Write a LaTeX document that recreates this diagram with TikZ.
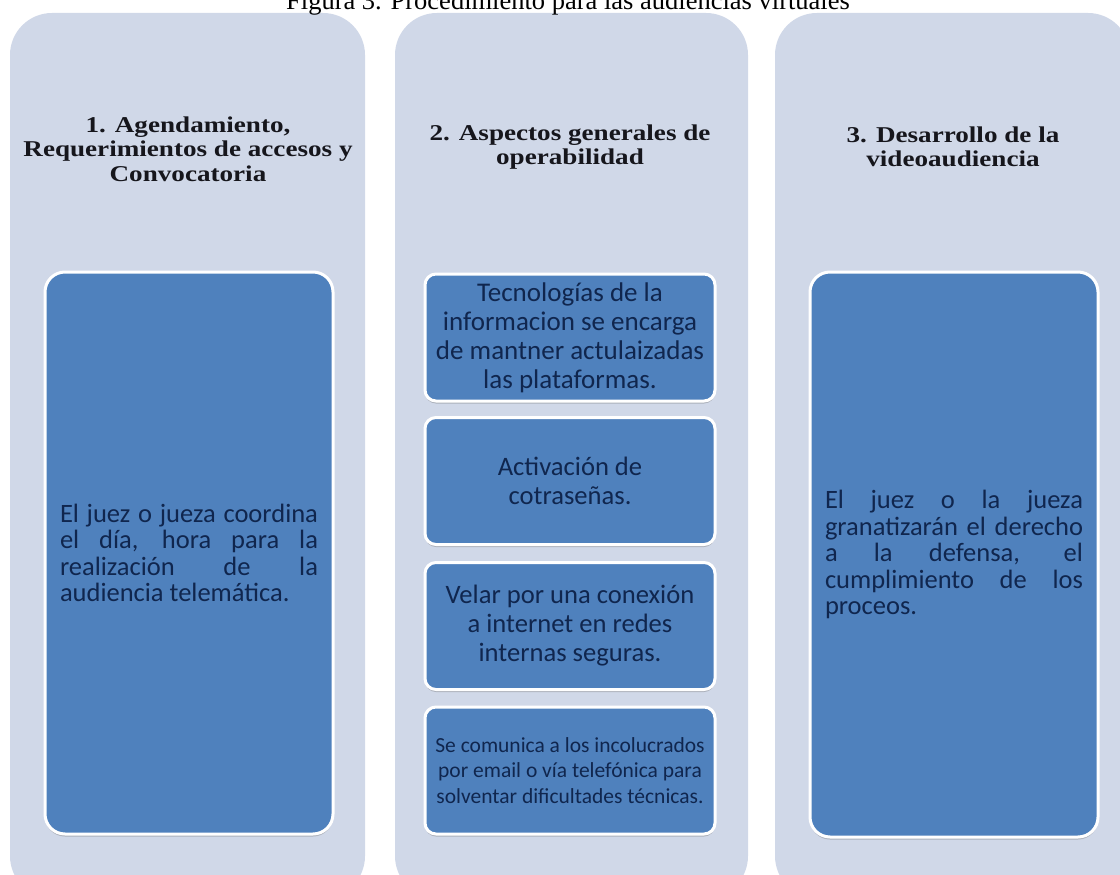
\documentclass[tikz,border=0pt]{standalone}
\usepackage{fontspec}
\setmainfont{Liberation Serif}
\newfontfamily\bodyfont{Carlito}
\newfontfamily\headfont[FakeStretch=1.2]{Liberation Serif}
\usetikzlibrary{shadows}
\definecolor{panelcol}{RGB}{208,216,232}
\definecolor{boxblue}{RGB}{79,129,189}
\definecolor{navytext}{RGB}{16,38,78}
\definecolor{headtext}{RGB}{22,22,28}
\begin{document}
\begin{tikzpicture}[x=1pt,y=-1pt,
  panel/.style={fill=panelcol, rounded corners=42pt},
  boxbase/.style={rectangle, draw=white, line width=3pt, fill=boxblue,
    text=navytext, inner sep=0pt,
    execute at begin node={\hyphenpenalty=10000\exhyphenpenalty=10000\tolerance=10000},
    drop shadow={shadow xshift=0pt, shadow yshift=-2.5pt, opacity=0.35, fill=black!60}},
  bigbox/.style={boxbase, rounded corners=20pt, minimum width=288pt, minimum height=562pt},
  smallbox/.style={boxbase, rounded corners=11pt, minimum width=290pt, minimum height=127pt, align=center},
  header/.style={text=headtext, align=center, font=\headfont\bfseries\fontsize{22.6}{24.5}\selectfont},
  bodytext/.style={font=\bodyfont\fontsize{26.5}{26.5}\selectfont, text width=258pt, align=justify}
]
\clip (0,0) rectangle (1120,875);
\fill[white] (0,0) rectangle (1120,875);

% panels
\fill[panel] (10,13) rectangle (365,898);
\fill[panel] (395,13) rectangle (748,898);
\fill[panel] (775,13) rectangle (1130,898);

% title
\node[anchor=base, font=\fontsize{26.5}{30}\selectfont, inner sep=0pt] (title) at (568,10)
  {Figura 3. Procedimiento para las audiencias virtuales};

% headers
\node[header] (h1) at (188,149) {1. Agendamiento,\\Requerimientos de accesos y\\Convocatoria};
\node[header] (h2) at (570,147) {2. Aspectos generales de\\operabilidad};
\node[header] (h3) at (953,147) {3. Desarrollo de la\\videoaudiencia};

% column 1
\node[bigbox, bodytext] (b1) at (189,553)
  {El juez o jueza coordina\linebreak el día, hora para la\linebreak realización de la\linebreak audiencia telemática.};

% column 2
\node[smallbox, font=\bodyfont\fontsize{27}{29}\selectfont] (b2a) at (570,337.5)
  {Tecnologías de la\\informacion se encarga\\de mantner actulaizadas\\las plataformas.};
\node[smallbox, font=\bodyfont\fontsize{26.6}{29}\selectfont] (b2b) at (570,481)
  {Activación de\\cotraseñas.};
\node[smallbox, font=\bodyfont\fontsize{26.6}{29}\selectfont] (b2c) at (570,626)
  {Velar por una conexión\\a internet en redes\\internas seguras.};
\node[smallbox, font=\bodyfont\fontsize{21.5}{25.5}\selectfont] (b2d) at (570,770.5)
  {Se comunica a los incolucrados\\por email o vía telefónica para\\solventar dificultades técnicas.};

% column 3
\node[bigbox, bodytext, minimum height=565pt] (b3) at (954,554.5)
  {El juez o la jueza\linebreak granatizarán el derecho\linebreak a la defensa, el\linebreak cumplimiento de los\linebreak proceos.};
\end{tikzpicture}
\end{document}
